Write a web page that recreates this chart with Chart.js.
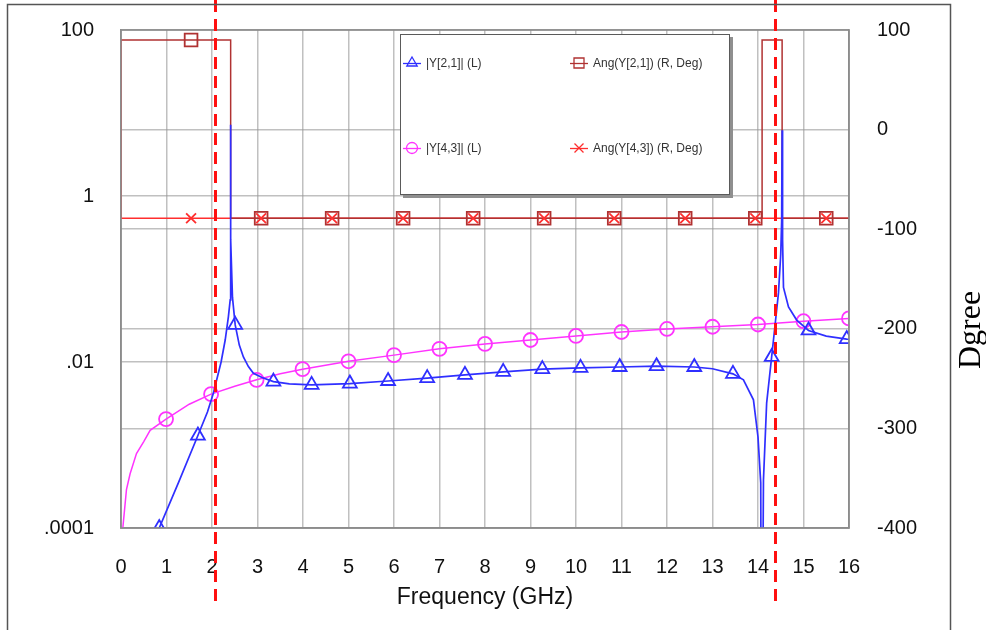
<!DOCTYPE html>
<html>
<head>
<meta charset="utf-8">
<script src="https://cdn.jsdelivr.net/npm/chart.js@4.4.0/dist/chart.umd.min.js"></script>
<style>
  html, body { margin: 0; padding: 0; background: #ffffff; }
  #wrap { width: 986px; height: 630px; }
</style>
</head>
<body>
<div id="wrap"><canvas id="c" width="986" height="630"></canvas></div>
<script>
// |Y[2,1]| magnitude sweep (GHz, siemens)
const y21Freq = [0.50, 0.84, 1.27, 1.69, 1.90, 2.03, 2.20, 2.29, 2.36, 2.40, 2.405, 2.41, 2.415, 2.45, 2.51, 2.60, 2.69, 2.80, 2.91, 3.10, 3.35, 3.70, 4.19, 5.03, 5.87, 6.73, 7.56, 8.40, 9.26, 10.10, 10.96, 11.77, 12.60, 13.00, 13.45, 13.68, 13.90, 14.00, 14.06, 14.075, 14.09, 14.12, 14.19, 14.30, 14.34, 14.45, 14.50, 14.52, 14.53, 14.54, 14.56, 14.67, 14.85, 15.11, 15.50, 15.95, 16.00];
const y21Mag  = [2.0e-5, 1.0e-4, 3.6e-4, 1.3e-3, 2.5e-3, 4.2e-3, 1.0e-2, 1.84e-2, 3.5e-2, 5.6e-2, 0.3, 7.2, 0.3, 6.0e-2, 2.8e-2, 1.6e-2, 1.15e-2, 8.8e-3, 7.3e-3, 6.5e-3, 5.8e-3, 5.45e-3, 5.3e-3, 5.5e-3, 5.9e-3, 6.4e-3, 7.0e-3, 7.6e-3, 8.2e-3, 8.5e-3, 8.7e-3, 8.9e-3, 8.7e-3, 8.3e-3, 7.2e-3, 6.1e-3, 3.5e-3, 1.25e-3, 3.5e-4, 1.0e-6, 1.0e-6, 3.8e-4, 3.2e-3, 1.15e-2, 1.84e-2, 6.8e-2, 0.2, 0.5, 6.2, 0.3, 7.9e-2, 4.6e-2, 3.2e-2, 2.4e-2, 2.05e-2, 1.89e-2, 1.88e-2];
const y21MarkFreq = [0.84, 1.69, 2.51, 3.35, 4.19, 5.03, 5.87, 6.73, 7.56, 8.40, 9.26, 10.10, 10.96, 11.77, 12.60, 13.45, 14.30, 15.11, 15.95];
const y21MarkMag  = [1.0e-4, 1.3e-3, 2.8e-2, 5.8e-3, 5.3e-3, 5.5e-3, 5.9e-3, 6.4e-3, 7.0e-3, 7.6e-3, 8.2e-3, 8.5e-3, 8.7e-3, 8.9e-3, 8.7e-3, 7.2e-3, 1.15e-2, 2.4e-2, 1.89e-2];

// |Y[4,3]| magnitude sweep
const y43Freq = [0.00, 0.04, 0.12, 0.20, 0.34, 0.50, 0.64, 0.99, 1.50, 1.98, 2.50, 2.98, 3.50, 3.99, 5.00, 6.00, 7.00, 8.00, 9.00, 10.00, 11.00, 12.00, 13.00, 14.00, 15.00, 16.00];
const y43Mag  = [3.0e-5, 1.0e-4, 2.9e-4, 4.5e-4, 7.9e-4, 1.1e-3, 1.5e-3, 2.05e-3, 3.1e-3, 4.1e-3, 5.1e-3, 6.1e-3, 7.2e-3, 8.2e-3, 1.02e-2, 1.21e-2, 1.44e-2, 1.65e-2, 1.84e-2, 2.06e-2, 2.3e-2, 2.5e-2, 2.66e-2, 2.83e-2, 3.1e-2, 3.35e-2];
const y43MarkFreq = [0.99, 1.98, 2.98, 3.99, 5.00, 6.00, 7.00, 8.00, 9.00, 10.00, 11.00, 12.00, 13.00, 14.00, 15.00, 16.00];
const y43MarkMag  = [2.05e-3, 4.1e-3, 6.1e-3, 8.2e-3, 1.02e-2, 1.21e-2, 1.44e-2, 1.65e-2, 1.84e-2, 2.06e-2, 2.3e-2, 2.5e-2, 2.66e-2, 2.83e-2, 3.1e-2, 3.35e-2];

// Phase of Y[2,1] and Y[4,3] in degrees
const ang21Freq = [0, 2.41, 2.41, 14.09, 14.09, 14.53, 14.53, 16];
const ang21Deg  = [90, 90, -89, -89, 90, 90, -89, -89];
const ang21MarkFreq = [1.54, 3.08, 4.64, 6.20, 7.74, 9.30, 10.84, 12.40, 13.94, 15.50];
const ang21MarkDeg  = [90, -89, -89, -89, -89, -89, -89, -89, -89, -89];
const ang43Freq = [0, 0, 16];
const ang43Deg  = [90, -89, -89];
const ang43MarkFreq = [1.54, 3.08, 4.64, 6.20, 7.74, 9.30, 10.84, 12.40, 13.94, 15.50];
const ang43MarkDeg  = [-89, -89, -89, -89, -89, -89, -89, -89, -89, -89];

// Axis ticks
const magTickValues = [100, 1, 0.01, 0.0001];
const magTickLabels = ['100', '1', '.01', '.0001'];
const degTickValues = [100, 0, -100, -200, -300, -400];

// Series names and the two dashed reference frequencies (GHz)
const seriesNames = ['|Y[2,1]| (L)', 'Ang(Y[2,1]) (R, Deg)', '|Y[4,3]| (L)', 'Ang(Y[4,3]) (R, Deg)'];
const refFreqs = [2.07, 14.37];

const BLUE = '#2f2fff';
const MAGENTA = '#ff33ff';
const DARKRED = '#b03232';
const RED = '#ff2e2e';
const GRID = 'rgba(150,150,150,0.6)';
const SANS = '"Liberation Sans", Arial, sans-serif';
const CLEAR = 'rgba(0,0,0,0)';

const pts = (xs, ys) => xs.map((x, i) => ({ x: x, y: ys[i] }));

function lineSet(xs, ys, color, axis, order, width) {
  return {
    data: pts(xs, ys), yAxisID: axis, showLine: true, borderColor: color,
    borderWidth: width, pointRadius: 0, tension: 0, order: order, clip: 0
  };
}
function markSet(xs, ys, color, axis, order, style, radius) {
  return {
    data: pts(xs, ys), yAxisID: axis, showLine: false, pointStyle: style,
    pointRadius: radius, pointBorderColor: color, pointBorderWidth: 1.8,
    pointBackgroundColor: CLEAR, order: order, clip: 0
  };
}

function symbol(ctx, style, x, y, r, color) {
  ctx.save();
  ctx.strokeStyle = color;
  ctx.lineWidth = 1.3;
  ctx.beginPath();
  if (style === 'triangle') {
    ctx.moveTo(x, y - r);
    ctx.lineTo(x + r * 0.866, y + r * 0.5);
    ctx.lineTo(x - r * 0.866, y + r * 0.5);
    ctx.closePath();
  } else if (style === 'circle') {
    ctx.arc(x, y, r, 0, Math.PI * 2);
  } else if (style === 'rect') {
    ctx.rect(x - r, y - r, 2 * r, 2 * r);
  } else {
    ctx.moveTo(x - r, y - r); ctx.lineTo(x + r, y + r);
    ctx.moveTo(x + r, y - r); ctx.lineTo(x - r, y + r);
  }
  ctx.stroke();
  ctx.restore();
}

const decor = {
  id: 'decor',
  beforeDraw(chart) {
    const ctx = chart.ctx;
    ctx.save();
    ctx.fillStyle = '#ffffff';
    ctx.fillRect(0, 0, chart.width, chart.height);
    ctx.restore();
  },
  afterDatasetsDraw(chart) {
    const ctx = chart.ctx;
    const a = chart.chartArea;
    // plot frame
    ctx.save();
    ctx.strokeStyle = '#8c8c8c';
    ctx.lineWidth = 1.5;
    ctx.strokeRect(a.left, a.top, a.right - a.left, a.bottom - a.top);
    ctx.restore();

    // legend box
    const bx = a.left + 279, by = a.top + 4, bw = 330, bh = 161;
    ctx.save();
    ctx.fillStyle = '#8f8f8f';
    ctx.fillRect(bx + 3, by + 3, bw, bh);
    ctx.fillStyle = '#ffffff';
    ctx.fillRect(bx, by, bw, bh);
    ctx.strokeStyle = '#5a5a5a';
    ctx.lineWidth = 1;
    ctx.strokeRect(bx + 0.5, by + 0.5, bw - 1, bh - 1);
    const entries = [
      { name: seriesNames[0], color: BLUE, style: 'triangle', col: 0, row: 0, r: 6 },
      { name: seriesNames[1], color: DARKRED, style: 'rect', col: 1, row: 0, r: 5 },
      { name: seriesNames[2], color: MAGENTA, style: 'circle', col: 0, row: 1, r: 5.5 },
      { name: seriesNames[3], color: RED, style: 'cross', col: 1, row: 1, r: 4.5 }
    ];
    ctx.font = '12px ' + SANS;
    ctx.textBaseline = 'middle';
    ctx.textAlign = 'left';
    entries.forEach(e => {
      const x0 = bx + 3 + e.col * 167;
      const y0 = by + 29 + e.row * 85;
      ctx.strokeStyle = e.color;
      ctx.lineWidth = 1.3;
      ctx.beginPath();
      ctx.moveTo(x0, y0 + 0.5);
      ctx.lineTo(x0 + 18, y0 + 0.5);
      ctx.stroke();
      symbol(ctx, e.style, x0 + 9, y0, e.r, e.color);
      ctx.fillStyle = '#333333';
      ctx.fillText(e.name, x0 + 23, y0 + 1);
    });
    ctx.restore();
  },
  afterDraw(chart) {
    const ctx = chart.ctx;
    const xs = chart.scales.x;
    // dashed reference lines
    ctx.save();
    ctx.strokeStyle = '#ff1010';
    ctx.lineWidth = 3;
    ctx.setLineDash([12, 7]);
    refFreqs.forEach(f => {
      const px = Math.round(xs.getPixelForValue(f)) + 0.5;
      ctx.beginPath();
      ctx.moveTo(px, 0);
      ctx.lineTo(px, 605);
      ctx.stroke();
    });
    ctx.restore();

    // outer frame
    ctx.save();
    ctx.strokeStyle = '#555555';
    ctx.lineWidth = 1.5;
    ctx.strokeRect(7.5, 4.5, 943, 660);
    ctx.restore();

    // right axis unit label
    ctx.save();
    ctx.fillStyle = '#000000';
    ctx.font = '32px "Liberation Serif", "Times New Roman", serif';
    ctx.textAlign = 'center';
    ctx.textBaseline = 'middle';
    ctx.translate(972, 330);
    ctx.rotate(-Math.PI / 2);
    ctx.fillText('Dgree', 0, 0);
    ctx.restore();
  }
};

new Chart(document.getElementById('c'), {
  type: 'scatter',
  data: {
    datasets: [
      markSet(y21MarkFreq, y21MarkMag, BLUE, 'yL', 1, 'triangle', 8),
      lineSet(y21Freq, y21Mag, BLUE, 'yL', 2, 1.7),
      markSet(y43MarkFreq, y43MarkMag, MAGENTA, 'yL', 3, 'circle', 7),
      lineSet(y43Freq, y43Mag, MAGENTA, 'yL', 4, 1.5),
      markSet(ang43MarkFreq, ang43MarkDeg, RED, 'yR', 5, 'crossRot', 7),
      markSet(ang21MarkFreq, ang21MarkDeg, DARKRED, 'yR', 6, 'rect', 9),
      lineSet(ang21Freq, ang21Deg, DARKRED, 'yR', 7, 1.5),
      lineSet(ang43Freq, ang43Deg, RED, 'yR', 8, 1.5)
    ]
  },
  options: {
    responsive: false,
    animation: false,
    devicePixelRatio: 1,
    layout: { padding: { left: 0, right: 37, top: 30, bottom: 19 } },
    plugins: { legend: { display: false }, tooltip: { enabled: false } },
    scales: {
      x: {
        type: 'linear', min: 0, max: 16,
        ticks: { stepSize: 1, padding: 0, color: '#111', maxRotation: 0, autoSkip: false,
                 font: { family: SANS, size: 20 } },
        grid: { color: GRID, lineWidth: 1.5, drawTicks: true, tickLength: 27, tickColor: CLEAR },
        border: { color: '#8c8c8c', width: 1.5 },
        title: { display: true, text: 'Frequency (GHz)', color: '#111', padding: 0,
                 font: { family: SANS, size: 23 } },
        afterFit(s) { s.height = 83; }
      },
      yL: {
        type: 'logarithmic', position: 'left', min: 1e-4, max: 100,
        afterBuildTicks(s) { s.ticks = magTickValues.map(v => ({ value: v })); },
        ticks: {
          padding: 0, color: '#111', font: { family: SANS, size: 20 },
          callback(v) {
            const i = magTickValues.findIndex(t => Math.abs(Math.log10(t) - Math.log10(v)) < 1e-6);
            return i >= 0 ? magTickLabels[i] : '';
          }
        },
        grid: { color: GRID, lineWidth: 1.5, drawTicks: true, tickLength: 27, tickColor: CLEAR },
        border: { color: '#8c8c8c', width: 1.5 },
        afterFit(s) { s.width = 121; }
      },
      yR: {
        type: 'linear', position: 'right', min: -400, max: 100,
        afterBuildTicks(s) { s.ticks = degTickValues.map(v => ({ value: v })); },
        ticks: { padding: 0, color: '#111', font: { family: SANS, size: 20 } },
        grid: { color: GRID, lineWidth: 1.5, drawTicks: true, tickLength: 28, tickColor: CLEAR },
        border: { color: '#8c8c8c', width: 1.5 },
        afterFit(s) { s.width = 100; }
      }
    }
  },
  plugins: [decor]
});
</script>
</body>
</html>
